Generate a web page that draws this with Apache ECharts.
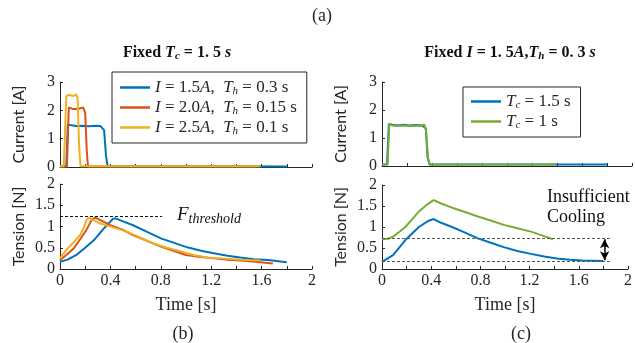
<!DOCTYPE html>
<html>
<head>
<meta charset="utf-8">
<script src="https://cdn.jsdelivr.net/npm/echarts@6/dist/echarts.min.js"></script>
<style>
  html, body { margin: 0; padding: 0; background: #fff; }
  #main { width: 635px; height: 343px; }
</style>
</head>
<body>
<div id="main"></div>
<script>
// Figure (b): fixed Tc = 1.5 s, current pulses [time s, current A]
var curB15 = [[0,0.03],[0.05,0.03],[0.062,1.5],[0.09,1.47],[0.13,1.45],[0.18,1.46],[0.23,1.44],[0.28,1.46],[0.32,1.45],[0.335,1.5],[0.35,1.3],[0.365,0.4],[0.378,0.03],[0.6,0.03],[1.0,0.03],[1.4,0.03],[1.8,0.02]];
var curB20 = [[0,0.02],[0.055,0.02],[0.07,2.1],[0.1,2.05],[0.14,2.05],[0.185,2.1],[0.2,1.9],[0.212,0.6],[0.222,0.02],[0.6,0.02],[1.0,0.02],[1.55,0.02]];
var curB25 = [[0,0.03],[0.03,0.03],[0.04,-0.02],[0.05,2.5],[0.075,2.55],[0.1,2.5],[0.13,2.56],[0.14,2.4],[0.152,0.7],[0.163,0.03],[0.6,0.03],[1.0,0.03],[1.59,0.03]];

// Figure (b): tension [time s, tension N]
var tenB15 = [[0,0.17],[0.06,0.22],[0.13,0.33],[0.2,0.5],[0.27,0.68],[0.35,0.96],[0.42,1.18],[0.44,1.19],[0.5,1.12],[0.58,1.03],[0.7,0.86],[0.8,0.72],[0.9,0.62],[1.01,0.51],[1.12,0.43],[1.22,0.37],[1.33,0.31],[1.43,0.27],[1.54,0.23],[1.65,0.21],[1.8,0.16]];
var tenB20 = [[0,0.21],[0.05,0.33],[0.11,0.49],[0.16,0.7],[0.21,0.92],[0.25,1.15],[0.28,1.21],[0.32,1.15],[0.4,1.03],[0.5,0.92],[0.58,0.8],[0.7,0.65],[0.8,0.53],[0.9,0.43],[1.0,0.33],[1.1,0.29],[1.22,0.25],[1.33,0.22],[1.43,0.2],[1.55,0.17],[1.69,0.13]];
var tenB25 = [[0,0.25],[0.05,0.45],[0.1,0.6],[0.16,0.8],[0.19,0.98],[0.21,1.15],[0.23,1.21],[0.26,1.16],[0.32,1.07],[0.42,0.98],[0.53,0.88],[0.63,0.75],[0.74,0.6],[0.85,0.5],[0.96,0.41],[1.06,0.33],[1.17,0.27],[1.28,0.25],[1.38,0.23],[1.48,0.21],[1.59,0.2]];
var threshold = 1.25;

// Figure (c): fixed I = 1.5 A, Th = 0.3 s
var curC15 = [[0,0.05],[0.04,0.05],[0.055,1.5],[0.08,1.47],[0.12,1.45],[0.17,1.47],[0.22,1.45],[0.27,1.46],[0.32,1.45],[0.335,1.52],[0.35,1.35],[0.365,0.3],[0.38,0.05],[0.8,0.05],[1.2,0.05],[1.8,0.05]];
var curC10 = [[0,0.05],[0.045,0.05],[0.058,1.5],[0.08,1.45],[0.12,1.44],[0.17,1.45],[0.22,1.43],[0.27,1.44],[0.32,1.44],[0.338,1.48],[0.352,1.3],[0.367,0.3],[0.382,0.05],[0.8,0.05],[1.2,0.05],[1.39,0.05]];
var tenC15 = [[0,0.17],[0.09,0.33],[0.19,0.69],[0.3,1.0],[0.38,1.15],[0.42,1.19],[0.48,1.1],[0.57,1.0],[0.68,0.86],[0.78,0.73],[0.89,0.62],[0.99,0.52],[1.1,0.43],[1.21,0.36],[1.32,0.3],[1.42,0.25],[1.53,0.22],[1.63,0.2],[1.8,0.19]];
var tenC10 = [[0,0.71],[0.05,0.72],[0.09,0.77],[0.14,0.88],[0.19,1.0],[0.25,1.2],[0.3,1.37],[0.36,1.52],[0.42,1.64],[0.48,1.56],[0.57,1.46],[0.68,1.35],[0.78,1.25],[0.89,1.15],[0.99,1.05],[1.1,0.97],[1.21,0.89],[1.3,0.8],[1.39,0.71]];
var coolHigh = 0.73, coolLow = 0.19;

var blue = '#0072BD', orange = '#D95319', yellow = '#EDB120', green = '#77AC30';
var axisCol = '#262626';
var serif = 'Liberation Serif';
var sans = 'Lato';

var dom = document.getElementById('main');
var myChart = echarts.init(dom, null, { renderer: 'canvas' });

function xAx(gi, labels) {
    return {
        type: 'value', gridIndex: gi, min: 0, max: 2, interval: 0.2,
        axisLine: { lineStyle: { color: axisCol, width: 1 } },
        axisTick: { inside: true, length: 3, lineStyle: { color: axisCol } },
        splitLine: { show: false },
        axisLabel: {
            show: labels, color: axisCol, fontFamily: serif, fontSize: 16, margin: 4,
            formatter: function (v) {
                var k = Math.round(v * 10);
                return k % 4 === 0 ? String(k / 10) : '';
            }
        },
        name: labels ? 'Time [s]' : '', nameLocation: 'middle', nameGap: 27,
        nameTextStyle: { color: axisCol, fontFamily: serif, fontSize: 18 }
    };
}
function yAx(gi, max, step, name) {
    return {
        type: 'value', gridIndex: gi, min: 0, max: max, interval: step,
        axisLine: { show: true, lineStyle: { color: axisCol, width: 1 } },
        axisTick: { show: true, inside: true, length: 3, lineStyle: { color: axisCol } },
        splitLine: { show: false },
        axisLabel: { color: axisCol, fontFamily: serif, fontSize: 16, margin: 5 },
        name: name, nameLocation: 'middle', nameGap: 33,
        nameTextStyle: { color: axisCol, fontFamily: sans, fontSize: 16 }
    };
}
function line(name, xi, data, color, extra) {
    var s = {
        name: name, type: 'line', xAxisIndex: xi, yAxisIndex: xi,
        data: data, symbol: 'none', smooth: false,
        lineStyle: { color: color, width: 2 }, itemStyle: { color: color }
    };
    if (extra) { for (var k in extra) s[k] = extra[k]; }
    return s;
}

var legRich = {
    i: { fontFamily: serif, fontStyle: 'italic', fontSize: 17, color: axisCol },
    n: { fontFamily: serif, fontSize: 17, color: axisCol },
    s: { fontFamily: serif, fontStyle: 'italic', fontSize: 11, color: axisCol, padding: [8, 0, 0, 0] }
};
var legendText = {
    b15: '{i|I}{n| = 1.5}{i|A}{n|,  }{i|T}{s|h}{n| = 0.3 s}',
    b20: '{i|I}{n| = 2.0}{i|A}{n|,  }{i|T}{s|h}{n| = 0.15 s}',
    b25: '{i|I}{n| = 2.5}{i|A}{n|,  }{i|T}{s|h}{n| = 0.1 s}',
    c15: '{i|T}{s|c}{n| = 1.5 s}',
    c10: '{i|T}{s|c}{n| = 1 s}'
};
var titleRich = {
    b: { fontFamily: serif, fontWeight: 'bold', fontSize: 16, color: '#111' },
    bi: { fontFamily: serif, fontWeight: 'bold', fontStyle: 'italic', fontSize: 16, color: '#111' },
    bs: { fontFamily: serif, fontWeight: 'bold', fontStyle: 'italic', fontSize: 11, color: '#111', padding: [8, 0, 0, 0] }
};
var legBase = {
    orient: 'vertical', icon: 'rect', itemWidth: 30, itemHeight: 2.5, itemGap: 2,
    borderColor: axisCol, borderWidth: 1, backgroundColor: '#fff',
    formatter: function (n) { return legendText[n]; },
    textStyle: { rich: legRich }
};

var option = {
    animation: false,
    title: [
        { text: '(a)', left: 317, top: 2, textAlign: 'center', textStyle: { fontFamily: serif, fontSize: 18, fontWeight: 'normal', color: axisCol } },
        { text: '{b|Fixed }{bi|T}{bs|c}{b| = 1. 5 }{bi|s}', left: 172, top: 38, textAlign: 'center', textStyle: { rich: titleRich } },
        { text: '{b|Fixed }{bi|I}{b| = 1. 5}{bi|A}{b|,}{bi|T}{bs|h}{b| = 0. 3 }{bi|s}', left: 505, top: 38, textAlign: 'center', textStyle: { rich: titleRich } },
        { text: '(b)', left: 178, top: 320, textAlign: 'center', textStyle: { fontFamily: serif, fontSize: 18, fontWeight: 'normal', color: axisCol } },
        { text: '(c)', left: 516, top: 320, textAlign: 'center', textStyle: { fontFamily: serif, fontSize: 18, fontWeight: 'normal', color: axisCol } }
    ],
    legend: [
        Object.assign({ data: ['b15', 'b20', 'b25'], left: 112, top: 72, width: 200, padding: [7, 10, 6, 8] }, legBase),
        Object.assign({ data: ['c15', 'c10'], left: 463, top: 87, padding: [6, 10, 6, 8] }, legBase)
    ],
    grid: [
        { left: 60, top: 82, width: 252, height: 85 },
        { left: 60, top: 184, width: 252, height: 85 },
        { left: 382, top: 82, width: 250, height: 84 },
        { left: 382, top: 185, width: 250, height: 84 }
    ],
    xAxis: [xAx(0, false), xAx(1, true), xAx(2, false), xAx(3, true)],
    yAxis: [
        yAx(0, 3, 1, 'Current [A]'),
        yAx(1, 2, 0.5, 'Tension [N]'),
        yAx(2, 3, 1, 'Current [A]'),
        yAx(3, 2, 0.5, 'Tension [N]')
    ],
    graphic: [
        {
            type: 'text', left: 177, top: 205,
            style: {
                text: '{f|F}{t|threshold}',
                rich: {
                    f: { fontFamily: serif, fontStyle: 'italic', fontSize: 19, fill: '#111' },
                    t: { fontFamily: serif, fontStyle: 'italic', fontSize: 14, fill: '#111', padding: [9, 0, 0, 0] }
                }
            }
        },
        {
            type: 'text', left: 547, top: 187,
            style: { text: 'Insufficient\nCooling', font: '18px ' + serif, fill: '#111', lineHeight: 20 }
        }
    ],
    series: [
        line('b15', 0, curB15, blue),
        line('b20', 0, curB20, orange),
        line('b25', 0, curB25, yellow),
        line('b15', 1, tenB15, blue, {
            markLine: {
                silent: true, symbol: 'none', label: { show: false },
                lineStyle: { color: '#111', type: [3, 2], width: 1 },
                data: [[{ coord: [0, threshold] }, { coord: [0.81, threshold] }]]
            }
        }),
        line('b20', 1, tenB20, orange),
        line('b25', 1, tenB25, yellow),
        line('c15', 2, curC15, blue),
        line('c10', 2, curC10, green),
        line('c15', 3, tenC15, blue, {
            markLine: {
                silent: true, symbol: 'none', label: { show: false },
                lineStyle: { color: '#555', type: [3, 2], width: 1 },
                data: [
                    [{ coord: [0, coolHigh] }, { coord: [1.86, coolHigh] }],
                    [{ coord: [0, coolLow] }, { coord: [1.86, coolLow] }],
                    [{ coord: [1.81, coolHigh - 0.02], symbol: 'arrow', symbolSize: [7, 9], lineStyle: { color: '#000', type: 'solid', width: 1.5 } },
                     { coord: [1.81, coolLow + 0.02], symbol: 'arrow', symbolSize: [7, 9] }]
                ]
            }
        }),
        line('c10', 3, tenC10, green)
    ]
};

if (option && typeof option === 'object') {
    myChart.setOption(option);
}

window.addEventListener('resize', myChart.resize);
</script>
</body>
</html>
